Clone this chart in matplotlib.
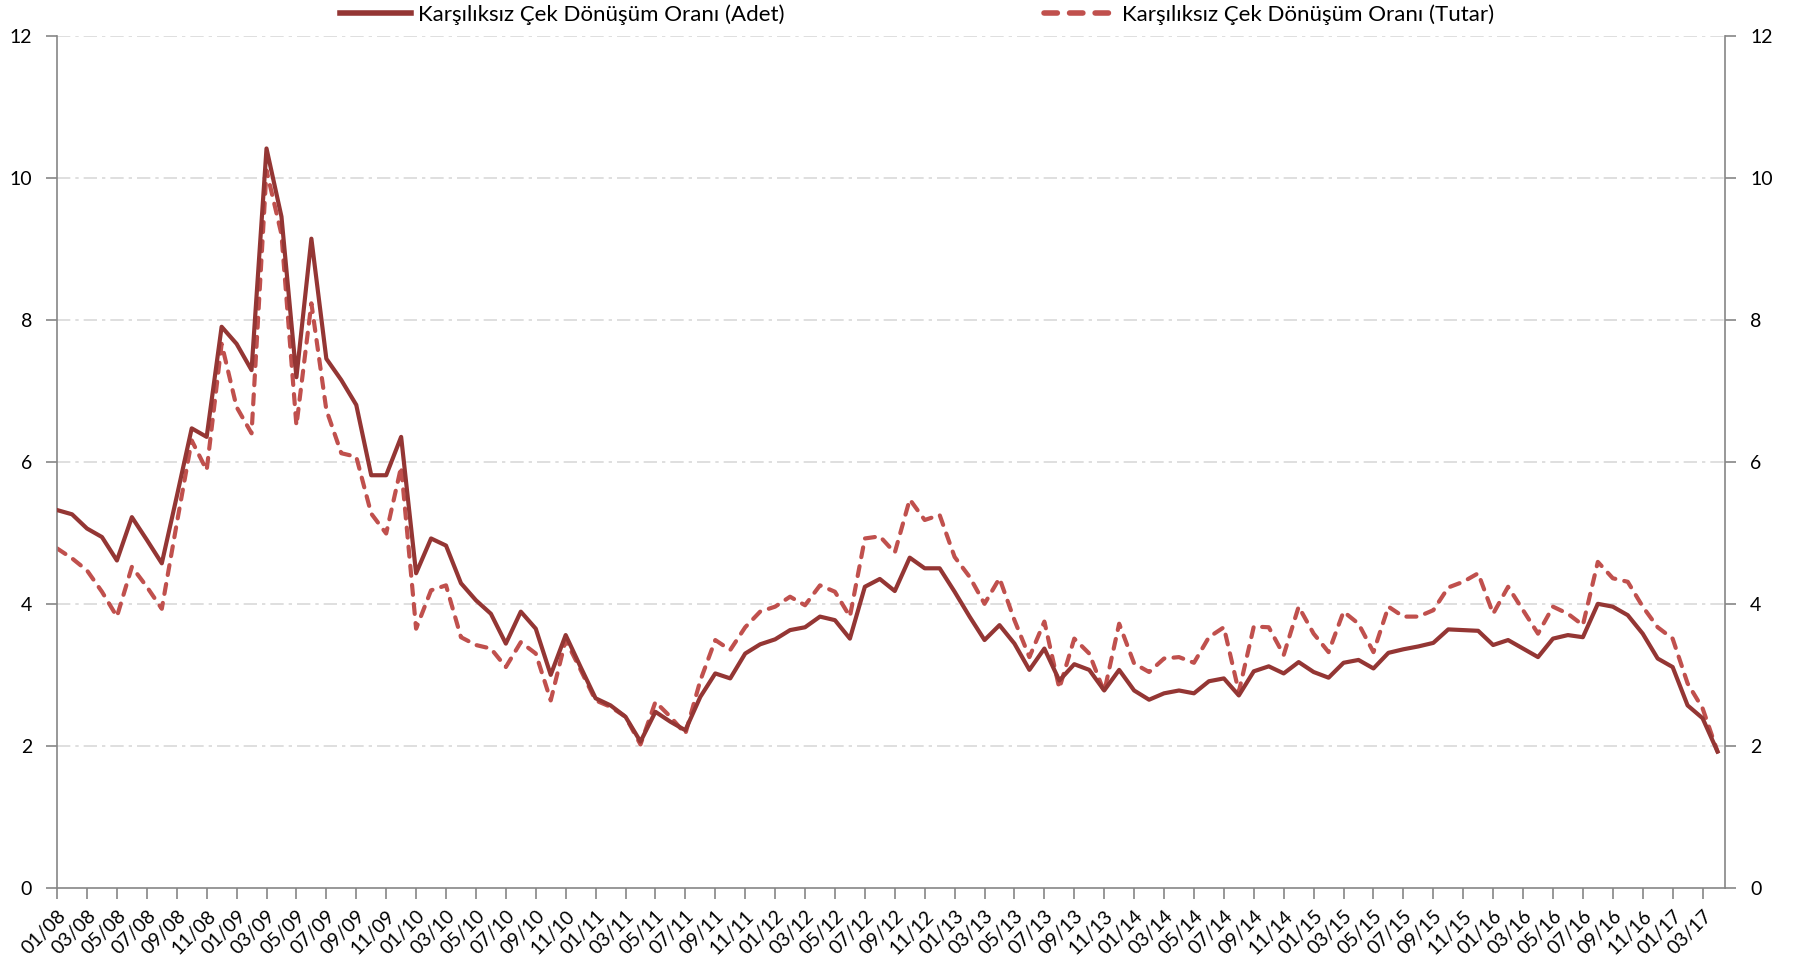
import matplotlib
matplotlib.use('Agg')
from matplotlib import pyplot as plt

plt.rcParams['font.family'] = ['Lato', 'DejaVu Sans']

# months 01/08 .. 04/17
months = ['%02d/%02d' % (m, y) for y in range(8, 18) for m in range(1, 13)][:112]

adet = [5.32, 5.26, 5.06, 4.94, 4.61, 5.22, 4.90, 4.57, 5.51, 6.47, 6.35, 7.90,
        7.66, 7.29, 10.41, 9.45, 7.19, 9.14, 7.45, 7.15, 6.80, 5.81, 5.81, 6.35,
        4.43, 4.92, 4.82, 4.29, 4.05, 3.86, 3.44, 3.89, 3.65, 3.00, 3.56, 3.11,
        2.67, 2.57, 2.41, 2.06, 2.48, 2.34, 2.22, 2.69, 3.02, 2.95, 3.30, 3.43,
        3.50, 3.63, 3.67, 3.82, 3.77, 3.51, 4.24, 4.35, 4.18, 4.65, 4.50, 4.50,
        4.17, 3.82, 3.49, 3.70, 3.44, 3.07, 3.37, 2.92, 3.15, 3.07, 2.78, 3.07,
        2.78, 2.65, 2.74, 2.78, 2.74, 2.91, 2.95, 2.71, 3.05, 3.12, 3.02, 3.18,
        3.04, 2.96, 3.17, 3.21, 3.09, 3.31, 3.36, 3.40, 3.45, 3.64, 3.63, 3.62,
        3.42, 3.49, 3.37, 3.25, 3.51, 3.56, 3.53, 4.00, 3.96, 3.84, 3.58, 3.23,
        3.11, 2.57, 2.39, 1.92]

tutar = [4.78, 4.64, 4.47, 4.17, 3.82, 4.52, 4.24, 3.93, 5.13, 6.30, 5.88, 7.66,
         6.77, 6.40, 10.10, 9.20, 6.51, 8.23, 6.73, 6.12, 6.07, 5.27, 4.99, 5.93,
         3.65, 4.19, 4.26, 3.53, 3.42, 3.37, 3.11, 3.46, 3.30, 2.64, 3.49, 3.07,
         2.64, 2.55, 2.41, 2.02, 2.62, 2.41, 2.17, 2.92, 3.49, 3.35, 3.67, 3.89,
         3.96, 4.10, 3.98, 4.26, 4.17, 3.82, 4.92, 4.95, 4.72, 5.47, 5.18, 5.25,
         4.66, 4.38, 4.00, 4.36, 3.77, 3.25, 3.75, 2.81, 3.51, 3.30, 2.76, 3.72,
         3.16, 3.04, 3.23, 3.25, 3.17, 3.53, 3.67, 2.76, 3.68, 3.67, 3.28, 3.96,
         3.58, 3.32, 3.89, 3.72, 3.32, 3.96, 3.82, 3.82, 3.91, 4.23, 4.31, 4.43,
         3.86, 4.24, 3.91, 3.58, 3.96, 3.86, 3.70, 4.59, 4.36, 4.31, 3.96, 3.67,
         3.51, 2.88, 2.53, 1.92]

yticks = [0, 2, 4, 6, 8, 10, 12]

fig = plt.figure(figsize=(17.95, 9.76), dpi=100)
ax = fig.add_axes([0.0318, 0.0902, 0.9292, 0.8734])

x = list(range(len(months)))
l1, = ax.plot(x, adet, color='#943634', lw=3.0, solid_joinstyle='round',
              label='Karşılıksız Çek Dönüşüm Oranı (Adet)', zorder=3)
l2, = ax.plot(x, tutar, color='#C0504D', lw=3.0, linestyle=(0, (2.4, 2.2)),
              dash_capstyle='round', label='Karşılıksız Çek Dönüşüm Oranı (Tutar)', zorder=2)

ax.set_xlim(0, 111.5)
ax.set_ylim(0, 12)
ax.set_yticks(yticks)
ax.set_xticks(x[::2])
ax.set_xticklabels(months[::2], rotation=45, ha='right', rotation_mode='anchor')

for v in yticks[1:]:
    ax.axhline(v, color='#D9D9D9', lw=1.2, linestyle=(0, (8, 3, 2, 3)), zorder=1)

for s in ['left', 'right', 'bottom']:
    ax.spines[s].set_color('#868686')
    ax.spines[s].set_linewidth(1.2)
ax.spines['top'].set_visible(False)

ax.tick_params(axis='both', colors='#868686', labelcolor='black', labelsize=14,
               length=8, width=1.2, direction='out')
ax.tick_params(axis='y', right=True, labelright=True, pad=10)
ax.tick_params(axis='x', pad=6)

leg = fig.legend(handles=[l1, l2], loc='center', bbox_to_anchor=(0.511, 0.985), ncol=2,
                 frameon=False, fontsize=16, handlelength=3.2, handletextpad=0.3,
                 columnspacing=11.7, borderpad=0.1)
for h in leg.legend_handles:
    h.set_linewidth(4)

fig.savefig('out.png', dpi=100)
